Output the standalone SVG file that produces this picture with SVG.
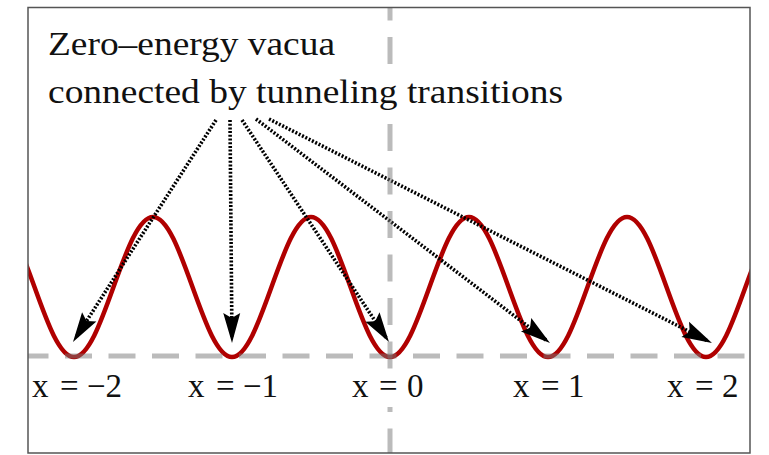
<svg xmlns="http://www.w3.org/2000/svg" width="769" height="455" viewBox="0 0 769 455">
<style>
.gray{stroke:#777;stroke-opacity:0.5;stroke-width:5;stroke-dasharray:27 16.5;fill:none}
.tun{stroke:#000;stroke-width:3.6;stroke-dasharray:2 1.7;fill:none;marker-end:url(#ah)}
.head{font-family:"Liberation Serif",serif;font-size:33px;fill:#111}
.lab{font-family:"Liberation Serif",serif;font-size:33px;fill:#111}
</style>
<defs>
<marker id="ah" markerUnits="userSpaceOnUse" markerWidth="34" markerHeight="22" viewBox="-32 -11 34 22" refX="-5" refY="0" orient="auto">
<path d="M0,0 L-30,-8.5 L-25,0 L-30,8.5 Z" fill="#000"/>
</marker>
<clipPath id="fr"><rect x="28" y="7" width="722" height="446"/></clipPath>
</defs>
<rect x="0" y="0" width="769" height="455" fill="#fff"/>
<g id="potential" clip-path="url(#fr)">
<path d="M-5,217 c14.3,0 26.62,34.14 39.5,70 c12.88,35.86 25.2,70 39.5,70 c14.3,0 26.62,-34.14 39.5,-70 c12.88,-35.86 25.2,-70 39.5,-70 c14.3,0 26.62,34.14 39.5,70 c12.88,35.86 25.2,70 39.5,70 c14.3,0 26.62,-34.14 39.5,-70 c12.88,-35.86 25.2,-70 39.5,-70 c14.3,0 26.62,34.14 39.5,70 c12.88,35.86 25.2,70 39.5,70 c14.3,0 26.62,-34.14 39.5,-70 c12.88,-35.86 25.2,-70 39.5,-70 c14.3,0 26.62,34.14 39.5,70 c12.88,35.86 25.2,70 39.5,70 c14.3,0 26.62,-34.14 39.5,-70 c12.88,-35.86 25.2,-70 39.5,-70 c14.3,0 26.62,34.14 39.5,70 c12.88,35.86 25.2,70 39.5,70 c14.3,0 26.62,-34.14 39.5,-70 c12.88,-35.86 25.2,-70 39.5,-70" fill="none" stroke="#b00000" stroke-width="4.5"/>
</g>
<g id="connectors">
<line class="tun" x1="216" y1="120" x2="75.7" y2="337.8"/>
<line class="tun" x1="230" y1="120" x2="231.96" y2="338"/>
<line class="tun" x1="242" y1="120" x2="386.24" y2="337.83"/>
<line class="tun" x1="256" y1="119" x2="546" y2="339.97"/>
<line class="tun" x1="269" y1="119" x2="707.54" y2="340.74"/>
</g>
<g id="axes" clip-path="url(#fr)">
<line class="gray" x1="28" y1="356" x2="750" y2="356" stroke-dashoffset="6.5"/>
<line class="gray" x1="390" y1="0" x2="390" y2="455" stroke-dashoffset="6.5"/>
</g>
<g id="title">
<rect x="44" y="66" width="524" height="50" fill="#fff"/>
<text class="head" x="48" y="55" textLength="287" lengthAdjust="spacingAndGlyphs">Zero–energy vacua</text>
<text class="head" x="48" y="103" textLength="515" lengthAdjust="spacingAndGlyphs">connected by tunneling transitions</text>
</g>
<g id="labels">
<g id="vac-m2"><text class="lab" y="397"><tspan x="32">x</tspan><tspan x="60">=</tspan><tspan x="87">−2</tspan></text></g>
<g id="vac-m1"><text class="lab" y="397"><tspan x="188">x</tspan><tspan x="216">=</tspan><tspan x="243">−1</tspan></text></g>
<g id="vac-0"><rect x="348" y="372" width="82" height="35" fill="#fff"/><text class="lab" y="397"><tspan x="352">x</tspan><tspan x="379">=</tspan><tspan x="407">0</tspan></text></g>
<g id="vac-1"><text class="lab" y="397"><tspan x="513">x</tspan><tspan x="541">=</tspan><tspan x="568">1</tspan></text></g>
<g id="vac-2"><text class="lab" y="397"><tspan x="667">x</tspan><tspan x="695">=</tspan><tspan x="722">2</tspan></text></g>
</g>
<rect id="frame" x="28" y="7.5" width="722" height="445.5" fill="none" stroke="#555" stroke-width="1.5"/>
</svg>
